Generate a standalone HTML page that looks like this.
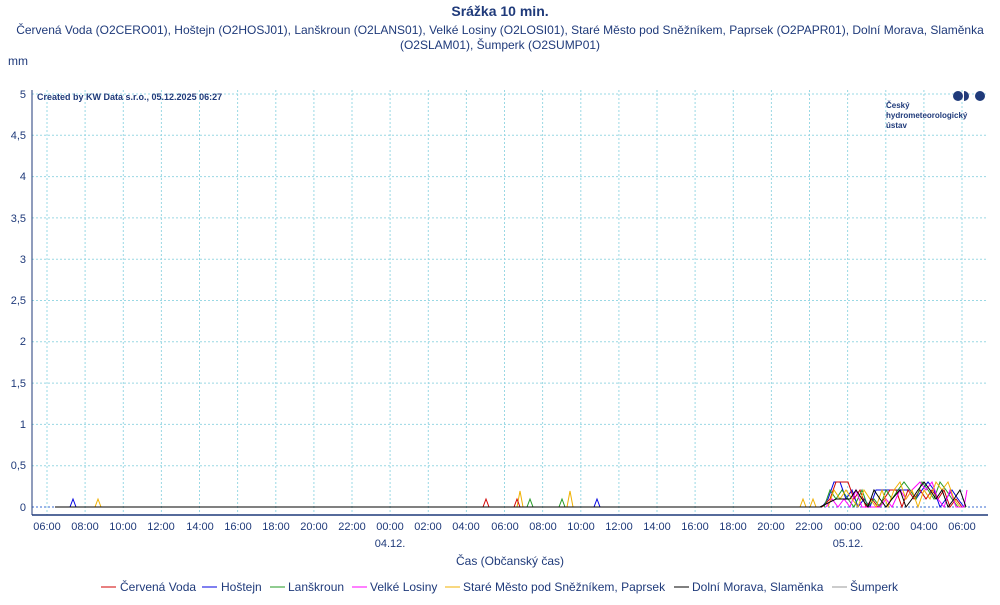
<!DOCTYPE html>
<html><head><meta charset="utf-8"><style>
body{margin:0;background:#fff;font-family:"Liberation Sans",sans-serif;}
svg text{font-family:"Liberation Sans",sans-serif;fill:#1f3a7a}
</style></head><body>
<svg width="1000" height="600" xmlns="http://www.w3.org/2000/svg">
<text x="500" y="16" font-size="14" font-weight="bold" text-anchor="middle">Srážka 10 min.</text>
<text x="500" y="34" font-size="12" text-anchor="middle">Červená Voda (O2CERO01), Hoštejn (O2HOSJ01), Lanškroun (O2LANS01), Velké Losiny (O2LOSI01), Staré Město pod Sněžníkem, Paprsek (O2PAPR01), Dolní Morava, Slaměnka</text>
<text x="500" y="49" font-size="12" text-anchor="middle">(O2SLAM01), Šumperk (O2SUMP01)</text>
<text x="8" y="65" font-size="12">mm</text>
<g stroke="#9ad8e4" stroke-dasharray="2,2" stroke-width="1">
<line x1="32" x2="988" y1="94" y2="94"/><line x1="32" x2="988" y1="135.3" y2="135.3"/><line x1="32" x2="988" y1="176.6" y2="176.6"/><line x1="32" x2="988" y1="217.9" y2="217.9"/><line x1="32" x2="988" y1="259.2" y2="259.2"/><line x1="32" x2="988" y1="300.5" y2="300.5"/><line x1="32" x2="988" y1="341.8" y2="341.8"/><line x1="32" x2="988" y1="383.1" y2="383.1"/><line x1="32" x2="988" y1="424.4" y2="424.4"/><line x1="32" x2="988" y1="465.7" y2="465.7"/>
<line x1="47" x2="47" y1="90" y2="515"/><line x1="85.1" x2="85.1" y1="90" y2="515"/><line x1="123.3" x2="123.3" y1="90" y2="515"/><line x1="161.4" x2="161.4" y1="90" y2="515"/><line x1="199.5" x2="199.5" y1="90" y2="515"/><line x1="237.6" x2="237.6" y1="90" y2="515"/><line x1="275.8" x2="275.8" y1="90" y2="515"/><line x1="313.9" x2="313.9" y1="90" y2="515"/><line x1="352" x2="352" y1="90" y2="515"/><line x1="390.1" x2="390.1" y1="90" y2="515"/><line x1="428.3" x2="428.3" y1="90" y2="515"/><line x1="466.4" x2="466.4" y1="90" y2="515"/><line x1="504.5" x2="504.5" y1="90" y2="515"/><line x1="542.6" x2="542.6" y1="90" y2="515"/><line x1="580.8" x2="580.8" y1="90" y2="515"/><line x1="618.9" x2="618.9" y1="90" y2="515"/><line x1="657" x2="657" y1="90" y2="515"/><line x1="695.1" x2="695.1" y1="90" y2="515"/><line x1="733.3" x2="733.3" y1="90" y2="515"/><line x1="771.4" x2="771.4" y1="90" y2="515"/><line x1="809.5" x2="809.5" y1="90" y2="515"/><line x1="847.6" x2="847.6" y1="90" y2="515"/><line x1="885.8" x2="885.8" y1="90" y2="515"/><line x1="923.9" x2="923.9" y1="90" y2="515"/><line x1="962" x2="962" y1="90" y2="515"/>
<line x1="32" x2="988" y1="507" y2="507" stroke="#3a6bd0"/>
</g>
<g fill="none" stroke-width="1">
<polyline stroke="#0000e0" points="70,507 73,499 76,507"/>
<polyline stroke="#0000e0" points="594,507 597,499 600,507"/>
<polyline stroke="#f0b000" points="95,507 98,499 101,507"/>
<polyline stroke="#f0b000" points="517,507 520,491 523,507"/>
<polyline stroke="#f0b000" points="567,507 570,491 573,507"/>
<polyline stroke="#f0b000" points="800,507 803,499 806,507 810,507 813,499 816,507"/>
<polyline stroke="#d00000" points="483,507 486,499 489,507"/>
<polyline stroke="#d00000" points="514,507 517,499 520,507"/>
<polyline stroke="#229922" points="527,507 530,499 533,507"/>
<polyline stroke="#229922" points="559,507 562,499 565,507"/>
<polyline stroke="#0000e0" points="822,507 828,499 834,482 840,482 846,499 852,490 858,507 864,499 870,507 876,490 910,490 916,499 922,490 928,482 934,490 940,507 946,499 952,490 958,499 964,507"/>
<polyline stroke="#d00000" points="822,507 830,499 836,482 848,482 854,499 860,490 866,507 872,499 878,507 884,499 890,490 896,490 902,507 908,490 914,499 920,490 926,499 932,490 938,499 944,490 950,507 956,499 962,507"/>
<polyline stroke="#229922" points="824,507 830,490 836,499 842,490 848,499 854,507 862,490 868,507 874,499 880,507 886,490 892,499 898,490 904,482 910,490 916,499 922,482 928,490 934,499 940,482 946,490 952,499 958,507 966,507"/>
<polyline stroke="#ff00ff" points="826,507 832,499 838,507 844,499 850,507 856,490 862,507 880,507 886,499 892,507 900,490 906,499 912,490 920,482 926,490 932,482 938,499 944,507 950,490 956,507 964,507 967,490"/>
<polyline stroke="#f0b000" points="828,507 834,490 840,499 846,490 852,499 858,507 864,490 870,499 876,507 882,490 888,507 894,490 900,482 906,499 912,490 918,507 924,490 930,499 936,482 942,490 948,482 954,499 960,507"/>
<polyline stroke="#000" points="820,507 836,499 850,499 856,490 862,499 868,507 874,490 880,499 886,507 892,499 900,490 906,507 912,499 918,490 924,482 930,490 936,499 942,490 948,507 954,499 960,490 966,507"/>
<line x1="55" x2="822" y1="507" y2="507" stroke="#000"/>
</g>
<line x1="32" y1="90" x2="32" y2="515" stroke="#1f3a7a"/>
<line x1="32" y1="515" x2="988" y2="515" stroke="#1f3a7a" stroke-width="1.5"/>
<g font-size="11" text-anchor="end">
<text x="26" y="98">5</text><text x="26" y="139">4,5</text><text x="26" y="180">4</text><text x="26" y="222">3,5</text><text x="26" y="263">3</text><text x="26" y="304">2,5</text><text x="26" y="345">2</text><text x="26" y="387">1,5</text><text x="26" y="428">1</text><text x="26" y="469">0,5</text><text x="26" y="511">0</text>
</g>
<g font-size="11" text-anchor="middle">
<text x="47" y="530">06:00</text><text x="85" y="530">08:00</text><text x="123" y="530">10:00</text><text x="161" y="530">12:00</text><text x="200" y="530">14:00</text><text x="238" y="530">16:00</text><text x="276" y="530">18:00</text><text x="314" y="530">20:00</text><text x="352" y="530">22:00</text><text x="390" y="530">00:00</text><text x="428" y="530">02:00</text><text x="466" y="530">04:00</text><text x="505" y="530">06:00</text><text x="543" y="530">08:00</text><text x="581" y="530">10:00</text><text x="619" y="530">12:00</text><text x="657" y="530">14:00</text><text x="695" y="530">16:00</text><text x="733" y="530">18:00</text><text x="771" y="530">20:00</text><text x="809" y="530">22:00</text><text x="848" y="530">00:00</text><text x="886" y="530">02:00</text><text x="924" y="530">04:00</text><text x="962" y="530">06:00</text>
<text x="390" y="547">04.12.</text><text x="848" y="547">05.12.</text>
<text x="510" y="565" font-size="12">Čas (Občanský čas)</text>
</g>
<text x="37" y="100" font-size="9" font-weight="bold">Created by KW Data s.r.o., 05.12.2025 06:27</text>
<g font-size="8" font-weight="bold"><text x="886" y="108">Český</text><text x="886" y="118">hydrometeorologický</text><text x="886" y="128">ústav</text></g>
<circle cx="958" cy="96" r="5" fill="#1f3a7a"/><circle cx="980" cy="96" r="5" fill="#1f3a7a"/><path d="M964,91 A5,5 0 0,1 964,101 Z" fill="#1f3a7a"/>
<g font-size="12">
<line x1="101" x2="116" y1="587" y2="587" stroke="#d00000"/><text x="120" y="591">Červená Voda</text>
<line x1="202" x2="217" y1="587" y2="587" stroke="#0000e0"/><text x="221" y="591">Hoštejn</text>
<line x1="270" x2="285" y1="587" y2="587" stroke="#229922"/><text x="288" y="591">Lanškroun</text>
<line x1="352" x2="367" y1="587" y2="587" stroke="#ff00ff"/><text x="370" y="591">Velké Losiny</text>
<line x1="445" x2="460" y1="587" y2="587" stroke="#f0b000"/><text x="463" y="591">Staré Město pod Sněžníkem, Paprsek</text>
<line x1="674" x2="689" y1="587" y2="587" stroke="#000"/><text x="692" y="591">Dolní Morava, Slaměnka</text>
<line x1="832" x2="847" y1="587" y2="587" stroke="#999"/><text x="850" y="591">Šumperk</text>
</g>
</svg>
</body></html>
